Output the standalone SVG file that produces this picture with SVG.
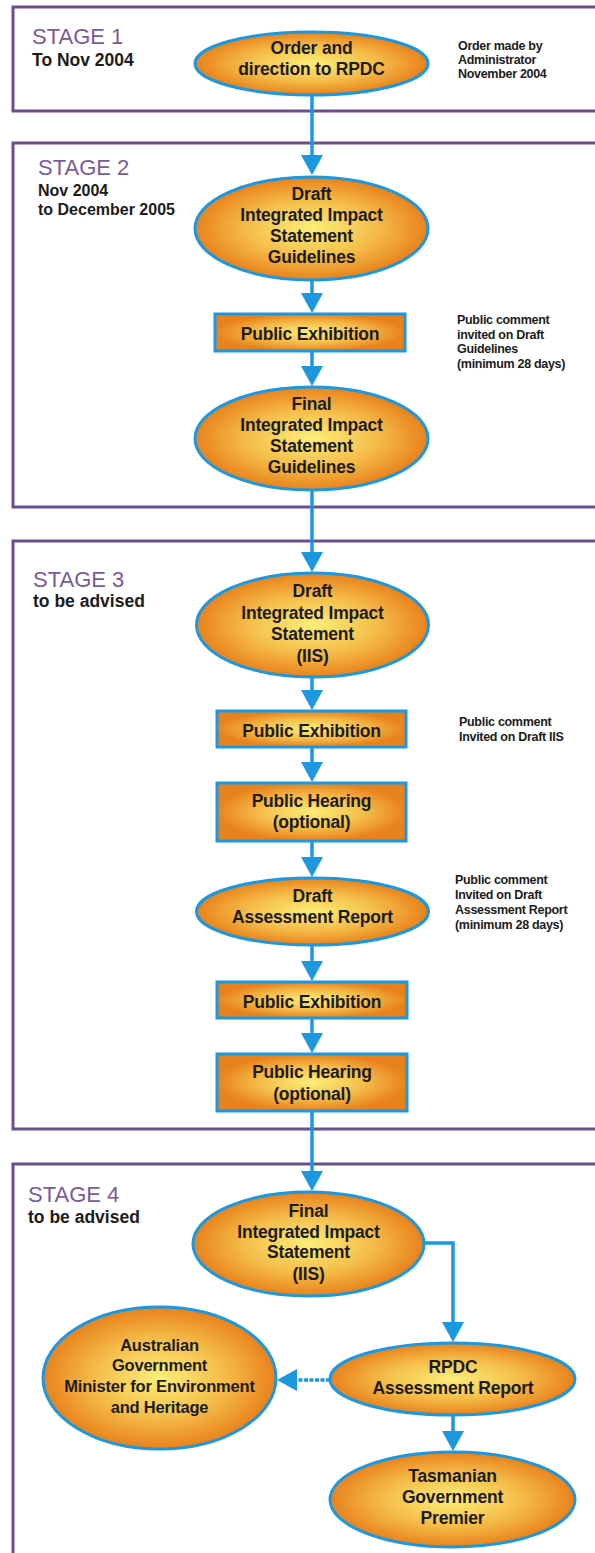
<svg xmlns="http://www.w3.org/2000/svg" width="595" height="1553" viewBox="0 0 595 1553">
<style>
.stage{fill:none;stroke:#6c4f8c;stroke-width:3}
.slabel{font-family:"Liberation Sans",Arial,sans-serif;font-size:22px;fill:#7a5a9c}
.ssub{font-family:"Liberation Sans",Arial,sans-serif;font-size:17.5px;font-weight:bold;fill:#1c1c1c}
.note{font-family:"Liberation Sans",Arial,sans-serif;font-size:12.5px;font-weight:bold;fill:#1c1c1c;letter-spacing:-0.3px}
.shape{fill:url(#gOr);stroke:#1b98e0;stroke-width:3}
.t{font-family:"Liberation Sans",Arial,sans-serif;font-size:17.5px;font-weight:bold;fill:#1c1c1c;text-anchor:middle;letter-spacing:-0.2px}
.c{fill:none;stroke:#1b98e0;stroke-width:3.5;marker-end:url(#ah)}
</style>
<defs>
<radialGradient id="gOr" cx="50%" cy="50%" r="50%">
<stop offset="0%" stop-color="#fcee78"/>
<stop offset="55%" stop-color="#f5bd4a"/>
<stop offset="100%" stop-color="#e8821c"/>
</radialGradient>
<marker id="ah" viewBox="0 0 20 22" refX="14" refY="11" markerWidth="20" markerHeight="22" markerUnits="userSpaceOnUse" orient="auto">
<path d="M0,0 L20,11 L0,22 z" fill="#1b98e0"/>
</marker>
</defs>
<rect width="595" height="1553" fill="#ffffff"/>

<g id="stage1">
<rect class="stage" x="13" y="7" width="600" height="104"/>
<text class="slabel" x="32" y="44">STAGE 1</text>
<text class="ssub" x="32" y="66">To Nov 2004</text>
<text class="note" x="458"><tspan x="458" y="50">Order made by</tspan><tspan x="458" y="64">Administrator</tspan><tspan x="458" y="78">November 2004</tspan></text>
</g>
<g id="stage2">
<rect class="stage" x="13" y="143" width="600" height="364"/>
<text class="slabel" x="38" y="175">STAGE 2</text>
<text class="ssub" style="font-size:16px" x="38"><tspan x="38" y="196">Nov 2004</tspan><tspan x="38" y="215">to December 2005</tspan></text>
<text class="note" x="457"><tspan x="457" y="324">Public comment</tspan><tspan x="457" y="339">invited on Draft</tspan><tspan x="457" y="353">Guidelines</tspan><tspan x="457" y="368">(minimum 28 days)</tspan></text>
</g>
<g id="stage3">
<rect class="stage" x="13" y="541" width="600" height="588"/>
<text class="slabel" x="33" y="587">STAGE 3</text>
<text class="ssub" x="33" y="607">to be advised</text>
<text class="note" x="459"><tspan x="459" y="726">Public comment</tspan><tspan x="459" y="741">Invited on Draft IIS</tspan></text>
<text class="note" x="455"><tspan x="455" y="884">Public comment</tspan><tspan x="455" y="899">Invited on Draft</tspan><tspan x="455" y="914">Assessment Report</tspan><tspan x="455" y="929">(minimum 28 days)</tspan></text>
</g>
<g id="stage4">
<rect class="stage" x="13" y="1164" width="600" height="500"/>
<text class="slabel" x="28" y="1202">STAGE 4</text>
<text class="ssub" x="28" y="1223">to be advised</text>
</g>

<g id="connectors">
<path class="c" d="M312,95 L312,169"/>
<path class="c" d="M312,281 L312,307"/>
<path class="c" d="M312,352 L312,380"/>
<path class="c" d="M312,491 L312,566"/>
<path class="c" d="M312,678 L312,704"/>
<path class="c" d="M312,748 L312,776"/>
<path class="c" d="M312,842 L312,871"/>
<path class="c" d="M312,946 L312,975"/>
<path class="c" d="M312,1019 L312,1047"/>
<path class="c" d="M312,1112 L312,1185"/>
<path class="c" d="M423,1243 L453,1243 L453,1336"/>
<path class="c" d="M453,1416 L453,1445"/>
<path class="c" d="M330,1380 L283,1380" stroke-dasharray="4,1.5"/>
</g>

<g id="n1">
<ellipse class="shape" cx="311.5" cy="63.5" rx="116.5" ry="31.5"/>
<text class="t" x="311.5"><tspan x="311.5" y="54">Order and</tspan><tspan x="311.5" y="75">direction to RPDC</tspan></text>
</g>
<g id="n2">
<ellipse class="shape" cx="311.5" cy="228.5" rx="116.5" ry="51.5"/>
<text class="t"><tspan x="311.5" y="200">Draft</tspan><tspan x="311.5" y="221">Integrated Impact</tspan><tspan x="311.5" y="242">Statement</tspan><tspan x="311.5" y="263">Guidelines</tspan></text>
</g>
<g id="n3">
<rect class="shape" x="215" y="314" width="190" height="37"/>
<text class="t" x="310" y="340">Public Exhibition</text>
</g>
<g id="n4">
<ellipse class="shape" cx="311.5" cy="438.5" rx="116.5" ry="51.5"/>
<text class="t"><tspan x="311.5" y="410">Final</tspan><tspan x="311.5" y="431">Integrated Impact</tspan><tspan x="311.5" y="452">Statement</tspan><tspan x="311.5" y="473">Guidelines</tspan></text>
</g>
<g id="n5">
<ellipse class="shape" cx="312.5" cy="625" rx="116" ry="52"/>
<text class="t"><tspan x="312.5" y="597">Draft</tspan><tspan x="312.5" y="619">Integrated Impact</tspan><tspan x="312.5" y="640">Statement</tspan><tspan x="312.5" y="662">(IIS)</tspan></text>
</g>
<g id="n6">
<rect class="shape" x="217" y="711" width="189" height="36"/>
<text class="t" x="311.5" y="737">Public Exhibition</text>
</g>
<g id="n7">
<rect class="shape" x="217" y="783" width="189" height="58"/>
<text class="t"><tspan x="311.5" y="807">Public Hearing</tspan><tspan x="311.5" y="828">(optional)</tspan></text>
</g>
<g id="n8">
<ellipse class="shape" cx="312.5" cy="911.5" rx="116" ry="33.5"/>
<text class="t"><tspan x="312.5" y="902">Draft</tspan><tspan x="312.5" y="923">Assessment Report</tspan></text>
</g>
<g id="n9">
<rect class="shape" x="217" y="982" width="190" height="36"/>
<text class="t" x="312" y="1008">Public Exhibition</text>
</g>
<g id="n10">
<rect class="shape" x="217" y="1054" width="190" height="57"/>
<text class="t"><tspan x="312" y="1078">Public Hearing</tspan><tspan x="312" y="1100">(optional)</tspan></text>
</g>
<g id="n11">
<ellipse class="shape" cx="308.5" cy="1244" rx="115.5" ry="52"/>
<text class="t"><tspan x="308.5" y="1217">Final</tspan><tspan x="308.5" y="1238">Integrated Impact</tspan><tspan x="308.5" y="1258">Statement</tspan><tspan x="308.5" y="1280">(IIS)</tspan></text>
</g>
<g id="n12">
<ellipse class="shape" cx="452.5" cy="1379" rx="122.5" ry="36"/>
<text class="t"><tspan x="453" y="1373">RPDC</tspan><tspan x="453" y="1394">Assessment Report</tspan></text>
</g>
<g id="n13">
<ellipse class="shape" cx="159.5" cy="1378" rx="116.5" ry="71"/>
<text class="t" style="font-size:16.5px"><tspan x="159.5" y="1351">Australian</tspan><tspan x="159.5" y="1371">Government</tspan><tspan x="159.5" y="1392">Minister for Environment</tspan><tspan x="159.5" y="1413">and Heritage</tspan></text>
</g>
<g id="n14">
<ellipse class="shape" cx="452.5" cy="1499.5" rx="122.5" ry="47.5"/>
<text class="t"><tspan x="452.5" y="1482">Tasmanian</tspan><tspan x="452.5" y="1503">Government</tspan><tspan x="452.5" y="1524">Premier</tspan></text>
</g>
</svg>
